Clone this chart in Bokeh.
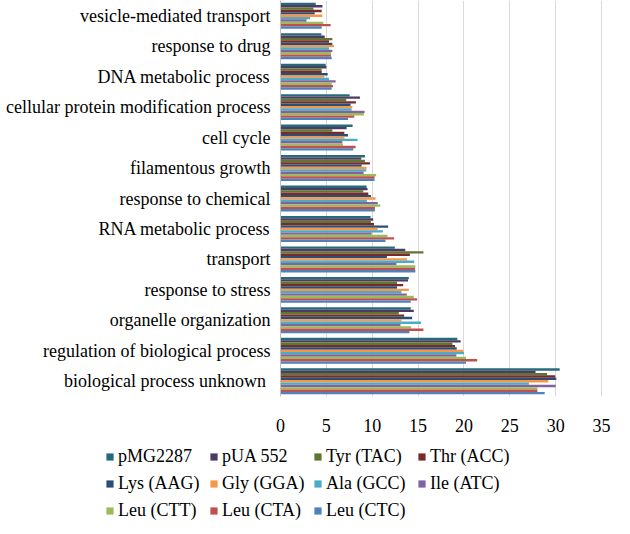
from bokeh.plotting import figure
from bokeh.layouts import column
from bokeh.models import FactorRange, Range1d, Legend, LegendItem, ColumnDataSource, FixedTicker
from bokeh.transform import dodge
from bokeh.embed import file_html
from bokeh.resources import INLINE

# categories, top to bottom as shown
categories = ["vesicle-mediated transport", "response to drug", "DNA metabolic process",
              "cellular protein modification process", "cell cycle", "filamentous growth",
              "response to chemical", "RNA metabolic process", "transport", "response to stress",
              "organelle organization", "regulation of biological process",
              "biological process unknown "]

series_names = ["pMG2287", "pUA 552", "Tyr (TAC)", "Thr (ACC)", "Lys (AAG)", "Gly (GGA)",
                "Ala (GCC)", "Ile (ATC)", "Leu (CTT)", "Leu (CTA)", "Leu (CTC)"]

pMG2287 = [3.84, 4.46, 4.93, 7.54, 7.86, 9.2, 9.38, 9.82, 12.46, 13.99, 14.2, 19.28, 30.43]
pUA552 = [4.57, 4.82, 5.0, 8.66, 7.21, 8.8, 9.49, 10.1, 13.6, 13.9, 14.53, 19.64, 27.8]
tyr_tac = [3.59, 5.65, 4.49, 7.17, 5.65, 9.2, 9.02, 9.86, 15.58, 12.7, 12.9, 18.74, 29.06]
thr_acc = [4.49, 5.29, 4.49, 8.22, 6.96, 9.75, 9.57, 10.2, 14.1, 13.37, 13.48, 19.03, 29.96]
lys_aag = [3.73, 5.65, 5.14, 7.64, 7.36, 8.84, 9.86, 11.74, 11.6, 12.7, 14.35, 19.21, 30.07]
gly_gga = [4.57, 5.83, 4.78, 7.83, 6.96, 9.38, 10.36, 10.6, 13.8, 13.99, 13.19, 19.93, 29.2]
ala_gcc = [3.22, 5.29, 5.29, 7.75, 8.41, 9.35, 9.42, 11.16, 14.57, 13.19, 15.33, 20.0, 27.07]
ile_atc = [2.83, 5.65, 6.01, 9.17, 6.74, 9.06, 10.6, 9.93, 12.64, 13.77, 13.08, 19.17, 30.0]
leu_ctt = [4.67, 5.5, 5.58, 9.09, 6.81, 10.43, 10.87, 11.67, 14.7, 14.53, 14.24, 20.22, 28.0]
leu_cta = [5.47, 5.5, 5.72, 8.04, 8.19, 10.25, 10.29, 12.39, 14.67, 14.89, 15.58, 21.44, 28.0]
leu_ctc = [4.49, 5.58, 5.58, 7.36, 7.93, 10.25, 10.29, 11.45, 14.7, 14.2, 14.06, 20.22, 28.8]

x_ticks = [0, 5, 10, 15, 20, 25, 30, 35]

colors = ["#276A7C", "#4D3B62", "#5F7530", "#772C2A", "#2C4D75", "#F79646",
          "#4BACC6", "#8064A2", "#9BBB59", "#C0504D", "#4F81BD"]

values = [pMG2287, pUA552, tyr_tac, thr_acc, lys_aag, gly_gga, ala_gcc, ile_atc,
          leu_ctt, leu_cta, leu_ctc]

data = {"cat": categories}
for i, v in enumerate(values):
    data[f"s{i}"] = v
source = ColumnDataSource(data)

FONT = "Liberation Serif"

p = figure(width=614, height=434,
           y_range=FactorRange(factors=list(reversed(categories))),
           x_range=Range1d(0, 35.1),
           output_backend="svg", toolbar_location=None,
           min_border_left=280, min_border_right=12, min_border_top=0, min_border_bottom=38)
p.outline_line_color = None
p.background_fill_color = "white"
p.border_fill_color = "white"

bar_h = 0.0775
for j in range(len(series_names)):
    off = (5 - j) * bar_h
    p.hbar(y=dodge("cat", off, range=p.y_range), left=0, right=f"s{j}", height=bar_h,
           source=source, fill_color=colors[j], line_color=None)

p.xaxis.ticker = FixedTicker(ticks=x_ticks)
p.xaxis.axis_line_color = None
p.xaxis.major_tick_line_color = None
p.xaxis.minor_tick_line_color = None
p.xaxis.major_label_standoff = 16
p.xaxis.major_label_text_font = FONT
p.xaxis.major_label_text_font_size = "18px"
p.xaxis.major_label_text_color = "#000000"

p.yaxis.axis_line_color = "#BFBFBF"
p.yaxis.major_tick_line_color = None
p.yaxis.minor_tick_line_color = None
p.yaxis.major_tick_out = 0
p.yaxis.major_label_standoff = 10
p.yaxis.major_label_text_font = FONT
p.yaxis.major_label_text_font_size = "18px"
p.yaxis.major_label_text_color = "#000000"

p.xgrid.grid_line_color = "#D9D9D9"
p.ygrid.grid_line_color = None

# legend-only figure: its swatch renderers are zero-width bars outside its range
lp = figure(width=614, height=92, x_range=Range1d(0, 1), y_range=Range1d(0, 1),
            x_axis_type=None, y_axis_type=None, output_backend="svg", toolbar_location=None,
            min_border=0, frame_align=False)
lp.outline_line_color = None
lp.xgrid.grid_line_color = None
lp.ygrid.grid_line_color = None
swatches = []
for j in range(len(series_names)):
    swatches.append(lp.hbar(y=f"s{j}", left=f"s{j}", right=f"s{j}", height=0.0,
                            source=source, fill_color=colors[j], line_color=None))

rows = [[0, 1, 2, 3], [4, 5, 6, 7], [8, 9, 10]]
row_y = [59, 32, 5]
for idxs, yy in zip(rows, row_y):
    leg = Legend(items=[LegendItem(label=series_names[i], renderers=[swatches[i]]) for i in idxs],
                 orientation="horizontal", location=(105, yy),
                 glyph_width=9, glyph_height=9, label_standoff=4, label_width=91,
                 label_height=20, spacing=0, padding=0, margin=0,
                 border_line_color=None, background_fill_alpha=0,
                 label_text_font=FONT, label_text_font_size="18px", label_text_color="#000000")
    lp.add_layout(leg)

layout = column(p, lp, spacing=0)
open("out.html", "w").write(file_html(layout, INLINE))
